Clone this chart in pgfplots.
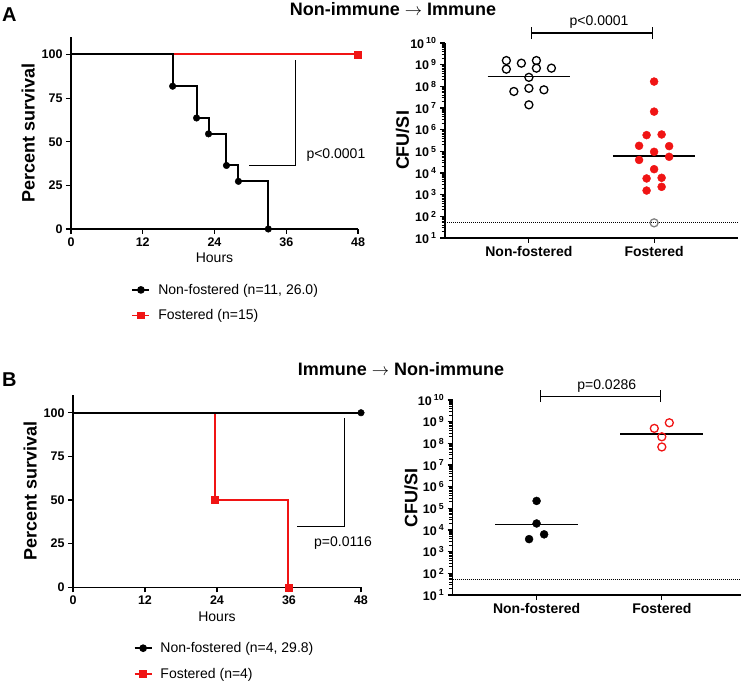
\documentclass[border=0pt]{standalone}
\usepackage{fontspec}
\setmainfont{Liberation Sans}
\usepackage{pgfplots}
\pgfplotsset{compat=1.18}

\definecolor{kmred}{RGB}{240,20,20}

\pgfplotsset{
  prism/.style={
    scale only axis,
    axis lines=left,
    axis line style={-, line width=1.4pt},
    tick align=outside,
    major tick length=5pt,
    minor tick length=3.5pt,
    tick style={line width=1.1pt, black},
    /pgf/number format/assume math mode=true,
    every tick label/.append style={font=\fontsize{12.5}{12.5}\selectfont\bfseries},
    clip=false,
  },
  surv/.style={
    prism, xmin=0, xmax=48, ymin=0, ymax=110,
    xtick={0,12,24,36,48}, ytick={0,25,50,75,100},
    xlabel={Hours}, ylabel={Percent survival},
    xlabel style={font=\fontsize{14}{14}\selectfont},
    ylabel style={font=\fontsize{18}{18}\selectfont\bfseries},
    legend style={at={(0.2,-0.265)}, anchor=north west, draw=none, fill=none,
      font=\fontsize{14}{14}\selectfont, row sep=10pt},
    legend cell align=left,
  },
  cfu/.style={
    prism, ymin=10, ymax=1e10, xmin=0.33, xmax=2.67,
    xtick={1,2}, xticklabels={Non-fostered,Fostered},
    xticklabel style={font=\fontsize{14}{14}\selectfont\bfseries},
    ytick={1e1,1e2,1e3,1e4,1e5,1e6,1e7,1e8,1e9,1e10},
    minor ytick={2e1,3e1,4e1,5e1,6e1,7e1,8e1,9e1,
      2e2,3e2,4e2,5e2,6e2,7e2,8e2,9e2,
      2e3,3e3,4e3,5e3,6e3,7e3,8e3,9e3,
      2e4,3e4,4e4,5e4,6e4,7e4,8e4,9e4,
      2e5,3e5,4e5,5e5,6e5,7e5,8e5,9e5,
      2e6,3e6,4e6,5e6,6e6,7e6,8e6,9e6,
      2e7,3e7,4e7,5e7,6e7,7e7,8e7,9e7,
      2e8,3e8,4e8,5e8,6e8,7e8,8e8,9e8,
      2e9,3e9,4e9,5e9,6e9,7e9,8e9,9e9},
    minor tick style={line width=0.9pt, black},
    yticklabels={10\,\textsuperscript{1},10\,\textsuperscript{2},10\,\textsuperscript{3},10\,\textsuperscript{4},10\,\textsuperscript{5},10\,\textsuperscript{6},10\,\textsuperscript{7},10\,\textsuperscript{8},10\,\textsuperscript{9},10\,\textsuperscript{10}},
    ylabel={CFU/SI},
    ylabel style={font=\fontsize{18}{18}\selectfont\bfseries,
      at={(axis description cs:-0.145,0.5)}, anchor=center},
  },
}

\begin{document}
\begin{tikzpicture}
\useasboundingbox (0,0) rectangle (747pt,683pt);

% panel letters and titles
\node[anchor=base west, font=\fontsize{20}{20}\selectfont\bfseries, inner sep=0] at (2pt,661pt) {A};
\node[anchor=base west, font=\fontsize{20}{20}\selectfont\bfseries, inner sep=0] at (2pt,296pt) {B};
\node[anchor=base, font=\fontsize{18}{18}\selectfont\bfseries, inner sep=0] at (393pt,667pt) {Non-immune $\rightarrow$ Immune};
\node[anchor=base, font=\fontsize{18}{18}\selectfont\bfseries, inner sep=0] at (401pt,307pt) {Immune $\rightarrow$ Non-immune};

% A: survival
\begin{axis}[surv, at={(71pt,454pt)}, anchor=south west, width=287pt, height=192pt]
\addlegendimage{black, line width=1.6pt, mark=*, mark size=3pt}
\addlegendentry{\hspace{6pt}Non-fostered (n=11, 26.0)}
\addlegendimage{kmred, line width=1.6pt, mark=square*, mark size=3pt}
\addlegendentry{\hspace{6pt}Fostered (n=15)}
\addplot[kmred, line width=2pt, forget plot] coordinates {(0,100) (48,100)};
\addplot[kmred, only marks, mark=square*, mark size=3.5pt, forget plot] coordinates {(48,100)};
\addplot[black, line width=2pt, const plot, forget plot] coordinates {
  (0,100) (17,81.8) (21,63.6) (23,54.5) (26,36.4) (28,27.3) (33,0)};
\addplot[black, only marks, mark=*, mark size=3.3pt, forget plot] coordinates {
  (17,81.8) (21,63.6) (23,54.5) (26,36.4) (28,27.3) (33,0)};
\addplot[black, line width=1.1pt, forget plot] coordinates {(29.8,36.2) (37.6,36.2) (37.6,97.1)};
\node[anchor=west, font=\fontsize{14}{14}\selectfont] at (axis cs:38.8,42.5) {p<0.0001};
\end{axis}

% A: CFU
\begin{axis}[ymode=log, cfu, at={(445pt,445pt)}, anchor=south west, width=293pt, height=195pt]
\addplot[black, densely dotted, line width=1pt] coordinates {(0.33,50) (2.67,50)};
\addplot[black, only marks, mark=o, mark size=4pt, line width=1.3pt] coordinates {
  (0.82,1.55e9) (0.82,6.2e8) (0.94,1.17e9) (1.06,1.55e9) (1.06,6.9e8) (1.18,6.9e8)
  (1.0,2.6e8) (0.88,5.8e7) (1.0,8.1e7) (1.12,6.9e7) (1.0,1.4e7)};
\addplot[kmred, only marks, mark=*, mark size=4pt] coordinates {
  (2.0,1.66e8) (2.0,6.8e6) (1.94,5.6e5) (2.06,6.0e5) (1.88,1.8e5) (2.12,1.74e5)
  (2.0,9.5e4) (2.12,5.6e4) (1.88,4.0e4) (2.0,1.5e4) (1.94,5.6e3) (2.06,6.0e3)
  (1.94,1.55e3) (2.06,2.3e3)};
\addplot[gray, only marks, mark=o, mark size=4pt, line width=1.3pt] coordinates {(2.0,50)};
\addplot[black, line width=1.3pt] coordinates {(0.67,2.95e8) (1.33,2.95e8)};
\addplot[black, line width=1.3pt] coordinates {(1.67,6.0e4) (2.33,6.0e4)};
\addplot[black, line width=1.2pt] coordinates {(1.02,2.9e10) (1.99,2.9e10)};
\addplot[black, line width=1.2pt] coordinates {(1.02,1.5e10) (1.02,5.5e10)};
\addplot[black, line width=1.2pt] coordinates {(1.99,1.5e10) (1.99,5.5e10)};
\node[font=\fontsize{14}{14}\selectfont] at (axis cs:1.56,8.9e10) {p<0.0001};
\end{axis}

% B: survival
\begin{axis}[surv, at={(73pt,95.7pt)}, anchor=south west, width=288pt, height=192pt]
\addlegendimage{black, line width=1.6pt, mark=*, mark size=3pt}
\addlegendentry{\hspace{6pt}Non-fostered (n=4, 29.8)}
\addlegendimage{kmred, line width=1.6pt, mark=square*, mark size=3pt}
\addlegendentry{\hspace{6pt}Fostered (n=4)}
\addplot[kmred, line width=2pt, const plot, forget plot] coordinates {(0,100) (23.6,50) (35.9,0)};
\addplot[kmred, only marks, mark=square*, mark size=3.5pt, forget plot] coordinates {(23.6,50) (35.9,0)};
\addplot[black, line width=2pt, forget plot] coordinates {(0,100) (48,100)};
\addplot[black, only marks, mark=*, mark size=3.3pt, forget plot] coordinates {(48,100)};
\addplot[black, line width=1.1pt, forget plot] coordinates {(37.4,34.8) (45.2,34.8) (45.2,97.1)};
\node[anchor=west, font=\fontsize{14}{14}\selectfont] at (axis cs:39.6,25.6) {p=0.0116};
\end{axis}

% B: CFU
\begin{axis}[ymode=log, cfu, at={(452.7pt,88pt)}, anchor=south west, width=288pt, height=195pt, xmax=2.63]
\addplot[black, densely dotted, line width=1pt] coordinates {(0.33,50) (2.63,50)};
\addplot[black, only marks, mark=*, mark size=4pt] coordinates {
  (1.0,2.2e5) (1.0,2.0e4) (0.94,3.8e3) (1.06,6.3e3)};
\addplot[kmred, only marks, mark=o, mark size=4pt, line width=1.3pt] coordinates {
  (2.06,8.9e8) (1.94,4.9e8) (2.0,2.0e8) (2.0,6.8e7)};
\addplot[black, line width=1.3pt] coordinates {(0.67,1.8e4) (1.33,1.8e4)};
\addplot[black, line width=1.3pt] coordinates {(1.67,2.7e8) (2.33,2.7e8)};
\addplot[black, line width=1.2pt] coordinates {(1.03,1.5e10) (1.99,1.5e10)};
\addplot[black, line width=1.2pt] coordinates {(1.03,7.9e9) (1.03,2.9e10)};
\addplot[black, line width=1.2pt] coordinates {(1.99,7.9e9) (1.99,2.9e10)};
\node[font=\fontsize{14}{14}\selectfont] at (axis cs:1.56,4.5e10) {p=0.0286};
\end{axis}
\end{tikzpicture}
\end{document}
